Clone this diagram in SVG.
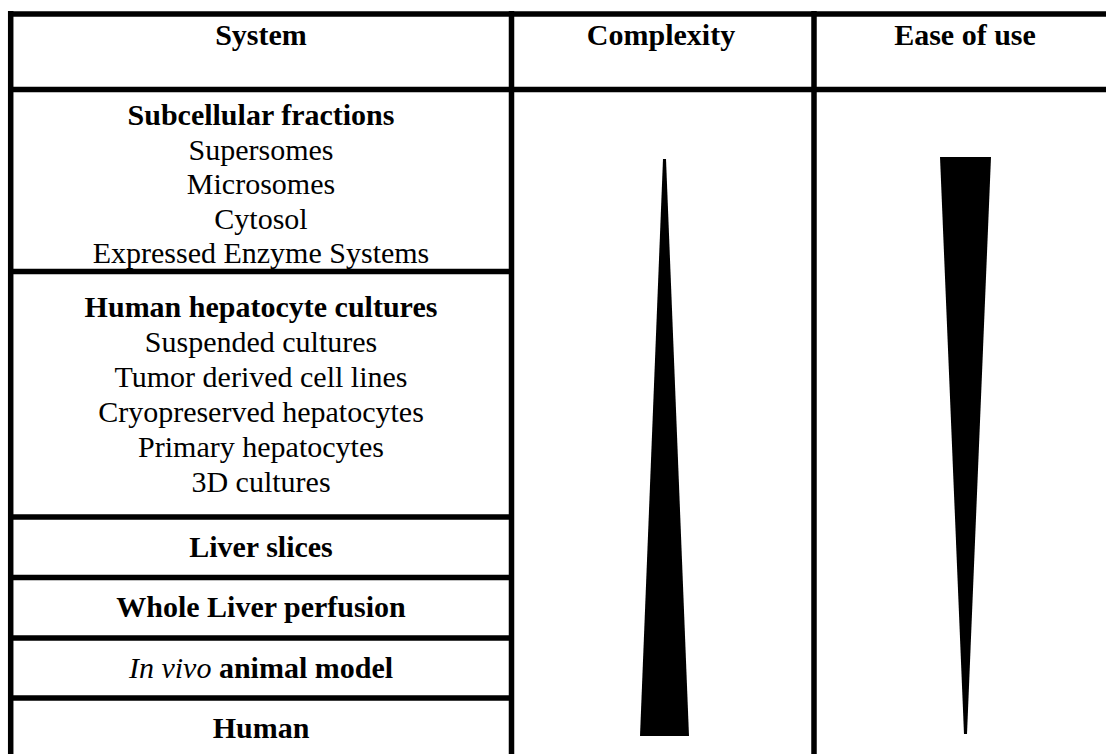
<svg xmlns="http://www.w3.org/2000/svg" width="1106" height="754" viewBox="0 0 1106 754">
<style>
.t{font-family:"Liberation Serif","Times New Roman",serif;font-size:30px;fill:#000;text-anchor:middle}
.b{font-weight:bold}
.ln{stroke:#000;stroke-width:5.5;fill:none}
.tri{fill:#000}
</style>
<rect x="0" y="0" width="1106" height="754" fill="#fff"/>
<g id="grid">
<line class="ln" x1="8" y1="14" x2="1106" y2="14"/>
<line class="ln" x1="8" y1="89.5" x2="1106" y2="89.5"/>
<line class="ln" x1="10.7" y1="11" x2="10.7" y2="754"/>
<line class="ln" x1="511.5" y1="11" x2="511.5" y2="754"/>
<line class="ln" x1="814" y1="11" x2="814" y2="754"/>
<line class="ln" x1="8" y1="271.5" x2="514" y2="271.5"/>
<line class="ln" x1="8" y1="517" x2="514" y2="517"/>
<line class="ln" x1="8" y1="577.5" x2="514" y2="577.5"/>
<line class="ln" x1="8" y1="638" x2="514" y2="638"/>
<line class="ln" x1="8" y1="698" x2="514" y2="698"/>
</g>
<g id="header-system"><text class="t b" x="261" y="45">System</text></g>
<g id="header-complexity"><text class="t b" x="661" y="45">Complexity</text></g>
<g id="header-ease"><text class="t b" x="965" y="45">Ease of use</text></g>
<g id="subcellular">
<text class="t b" x="261" y="125">Subcellular fractions</text>
<text class="t" x="261" y="159.5">Supersomes</text>
<text class="t" x="261" y="194">Microsomes</text>
<text class="t" x="261" y="228.5">Cytosol</text>
<text class="t" x="261" y="263">Expressed Enzyme Systems</text>
</g>
<g id="hepatocyte">
<text class="t b" x="261" y="317">Human hepatocyte cultures</text>
<text class="t" x="261" y="352">Suspended cultures</text>
<text class="t" x="261" y="387">Tumor derived cell lines</text>
<text class="t" x="261" y="422">Cryopreserved hepatocytes</text>
<text class="t" x="261" y="457">Primary hepatocytes</text>
<text class="t" x="261" y="492">3D cultures</text>
</g>
<g id="liver-slices"><text class="t b" x="261" y="557">Liver slices</text></g>
<g id="whole-liver"><text class="t b" x="261" y="617">Whole Liver perfusion</text></g>
<g id="in-vivo"><text class="t" x="261" y="678"><tspan font-style="italic">In vivo</tspan><tspan class="b"> animal model</tspan></text></g>
<g id="human"><text class="t b" x="261" y="738">Human</text></g>
<g id="complexity-wedge"><polygon class="tri" points="663,159 666,159 689,736 640,736"/></g>
<g id="ease-wedge"><polygon class="tri" points="940,157 991,157 967,734 964,734"/></g>
<g id="connectors"></g>
</svg>
